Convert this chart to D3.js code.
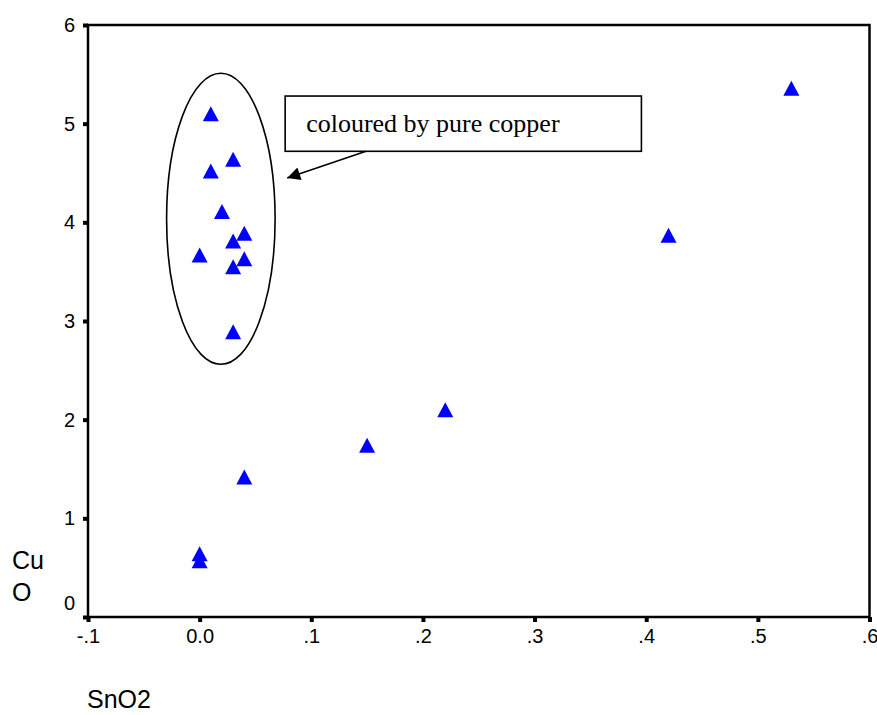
<!DOCTYPE html>
<html>
<head>
<meta charset="utf-8">
<script src="https://cdn.jsdelivr.net/npm/d3@7"></script>
<style>
  body { margin: 0; background: #fff; }
  .axisTitle { font-family: "Liberation Sans", Arial, sans-serif; font-size: 25px; fill: #000; }
  .note { font-family: "Liberation Serif", "Times New Roman", serif; font-size: 26px; fill: #000; }
</style>
</head>
<body>
<div id="chart"></div>
<script>
"use strict";

// SnO2 / CuO pairs
var sno2 = [0.01, 0.03, 0.01, 0.02, 0.04, 0.03, 0.00, 0.04, 0.03, 0.03,
            0.53, 0.42, 0.22, 0.15, 0.04, 0.00, 0.00];
var cuo  = [5.10, 4.64, 4.52, 4.11, 3.89, 3.81, 3.67, 3.63, 3.55, 2.89,
            5.36, 3.87, 2.10, 1.74, 1.42, 0.64, 0.57];

var xTickValues = [-0.1, 0, 0.1, 0.2, 0.3, 0.4, 0.5, 0.6];
var xTickLabels = ["-.1", "0.0", ".1", ".2", ".3", ".4", ".5", ".6"];
var yTickValues = [0, 1, 2, 3, 4, 5, 6];
var yTickLabels = ["0", "1", "2", "3", "4", "5", "6"];

function styleAxis(g) {
  g.attr("font-size", 20)
    .attr("font-family", "'Liberation Sans', Arial, sans-serif");
  g.select(".domain").remove();
  g.selectAll(".tick line")
    .attr("stroke", "#000")
    .attr("stroke-width", 4);
  g.selectAll(".tick text")
    .attr("fill", "#000");
}

function scatter(w, h) {
  var left = 88, top = 25, right = 869.5, bottom = 617;

  var xScale = d3.scaleLinear().domain([-0.1, 0.6]).range([left, right]);
  var yScale = d3.scaleLinear().domain([0, 6]).range([bottom, top]);

  var svg = d3.select("#chart")
    .append("svg")
    .attr("width", w)
    .attr("height", h);

  //Axes
  var xAxis = d3.axisBottom(xScale)
    .tickValues(xTickValues)
    .tickFormat(function (d, i) { return xTickLabels[i]; })
    .tickSize(5)
    .tickPadding(7);

  var yAxis = d3.axisLeft(yScale)
    .tickValues(yTickValues)
    .tickFormat(function (d, i) { return yTickLabels[i]; })
    .tickSize(5)
    .tickPadding(8);

  svg.append("g")
    .attr("transform", "translate(0," + bottom + ")")
    .call(xAxis)
    .call(styleAxis);

  var gy = svg.append("g")
    .attr("transform", "translate(" + left + ",0)")
    .call(yAxis)
    .call(styleAxis);
  //zero label sits above the x axis
  gy.selectAll(".tick text")
    .filter(function (d) { return d === 0; })
    .attr("dy", "-0.36em");

  //Frame
  svg.append("rect")
    .attr("x", left)
    .attr("y", top)
    .attr("width", right - left)
    .attr("height", bottom - top)
    .attr("fill", "none")
    .attr("stroke", "#000")
    .attr("stroke-width", 2.5);

  //Axis titles
  var yTitle = svg.append("text").attr("class", "axisTitle");
  yTitle.append("tspan").attr("x", 12).attr("y", 569).text("Cu");
  yTitle.append("tspan").attr("x", 12).attr("y", 601).text("O");

  svg.append("text")
    .attr("class", "axisTitle")
    .attr("x", 87)
    .attr("y", 708)
    .text("SnO2");

  //Triangle marker, centred on its bounding box
  var tri = {
    draw: function (ctx) {
      ctx.moveTo(0, -7.5);
      ctx.lineTo(8, 7.5);
      ctx.lineTo(-8, 7.5);
      ctx.closePath();
    }
  };

  svg.selectAll(".pt")
    .data(d3.range(sno2.length))
    .enter()
    .append("path")
    .attr("class", "pt")
    .attr("transform", function (i) {
      return "translate(" + xScale(sno2[i]) + "," + yScale(cuo[i]) + ")";
    })
    .attr("d", d3.symbol().type(tri))
    .attr("fill", "#0000ff");

  //Ellipse round the pure-copper group
  svg.append("ellipse")
    .attr("cx", xScale(0.019))
    .attr("cy", yScale(4.036))
    .attr("rx", xScale(0.019 + 0.0486) - xScale(0.019))
    .attr("ry", yScale(4.036) - yScale(4.036 + 1.475))
    .attr("fill", "none")
    .attr("stroke", "#000")
    .attr("stroke-width", 1.6);

  //Note box
  svg.append("rect")
    .attr("x", xScale(0.0766))
    .attr("y", yScale(5.28))
    .attr("width", xScale(0.3957) - xScale(0.0766))
    .attr("height", yScale(4.72) - yScale(5.28))
    .attr("fill", "#fff")
    .attr("stroke", "#000")
    .attr("stroke-width", 1.6);

  svg.append("text")
    .attr("class", "note")
    .attr("x", xScale(0.0954))
    .attr("y", yScale(4.92))
    .text("coloured by pure copper");

  //Arrow
  svg.append("defs").append("marker")
    .attr("id", "head")
    .attr("viewBox", "0 0 10 10")
    .attr("refX", 10)
    .attr("refY", 5)
    .attr("markerUnits", "userSpaceOnUse")
    .attr("markerWidth", 18)
    .attr("markerHeight", 13)
    .attr("orient", "auto")
    .append("path")
    .attr("d", "M0,0 L10,5 L0,10 Z")
    .attr("fill", "#000");

  svg.append("line")
    .attr("x1", xScale(0.149))
    .attr("y1", yScale(4.72))
    .attr("x2", xScale(0.0784))
    .attr("y2", yScale(4.45))
    .attr("stroke", "#000")
    .attr("stroke-width", 1.6)
    .attr("marker-end", "url(#head)");
}

function init() {
  scatter(877, 715);
}

window.onload = init;
</script>
</body>
</html>
